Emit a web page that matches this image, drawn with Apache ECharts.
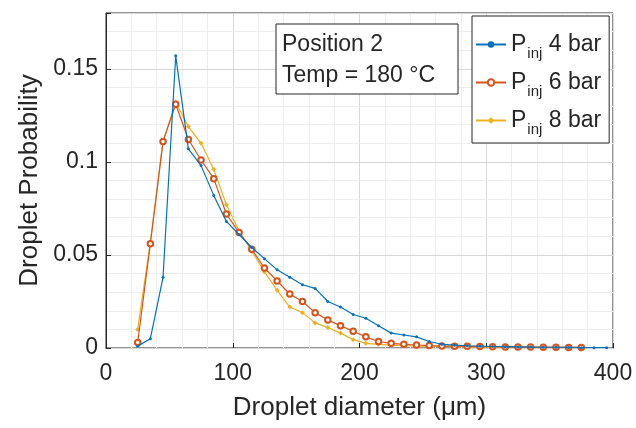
<!DOCTYPE html>
<html>
<head>
<meta charset="utf-8">
<script src="https://cdn.jsdelivr.net/npm/echarts@6/dist/echarts.min.js"></script>
<style>
  html, body { margin: 0; padding: 0; background: #fff; }
  #chart { width: 636px; height: 428px; }
</style>
</head>
<body>
<div id="chart"></div>
<script>
// droplet diameter bins (um)
const diam4 = [25, 35, 45, 55, 65, 75, 85, 95, 105, 115, 125, 135, 145, 155, 165, 175, 185, 195, 205, 215,
  225, 235, 245, 255, 265, 275, 285, 295, 305, 315, 325, 335, 345, 355, 365, 375, 385, 395];
const diam68 = [25, 35, 45, 55, 65, 75, 85, 95, 105, 115, 125, 135, 145, 155, 165, 175, 185, 195, 205, 215,
  225, 235, 245, 255, 265, 275, 285, 295, 305, 315, 325, 335, 345, 355, 365, 375];

// probabilities
const prob4bar = [0.001, 0.005, 0.038, 0.157, 0.107, 0.098, 0.082, 0.068, 0.061, 0.054,
  0.048, 0.042, 0.038, 0.034, 0.032, 0.025, 0.022, 0.018, 0.016, 0.012,
  0.008, 0.007, 0.006, 0.0035, 0.002, 0.0015, 0.0012, 0.001, 0.0008, 0.0007,
  0.0006, 0.0005, 0.0004, 0.0004, 0.0003, 0.0002, 0.0002, 0.0002];
const prob6bar = [0.003, 0.056, 0.111, 0.131, 0.112, 0.101, 0.091, 0.072, 0.062, 0.053,
  0.043, 0.036, 0.029, 0.025, 0.019, 0.015, 0.012, 0.009, 0.006, 0.0035,
  0.0025, 0.002, 0.0016, 0.0013, 0.0011, 0.001, 0.0009, 0.0008, 0.0007, 0.0006,
  0.0005, 0.0005, 0.0004, 0.0004, 0.0003, 0.0003];
const prob8bar = [0.010, 0.057, 0.111, 0.132, 0.119, 0.110, 0.096, 0.077, 0.063, 0.052,
  0.041, 0.031, 0.022, 0.019, 0.0135, 0.011, 0.008, 0.0045, 0.0025, 0.002,
  0.0015, 0.0012, 0.001, 0.0009, 0.0008, 0.0007, 0.0006, 0.0005, 0.0005, 0.0004,
  0.0004, 0.0003, 0.0003, 0.0003, 0.0002, 0.0002];

const seriesNames = ['4 bar', '6 bar', '8 bar'];
const xTicks = [0, 100, 200, 300, 400];
const yTicks = [0, 0.05, 0.1, 0.15];

const FONT = 'Liberation Sans';
const AX = '#262626';

function pairs(xs, ys) {
  return xs.map((x, i) => [x, ys[i]]);
}

const chart = echarts.init(document.getElementById('chart'));

chart.setOption({
  animation: false,
  textStyle: { fontFamily: FONT, color: AX },
  grid: {
    left: 106, right: 23, top: 13, bottom: 80,
    show: true, borderColor: AX, borderWidth: 1, backgroundColor: 'transparent'
  },
  legend: {
    orient: 'vertical',
    left: 472, top: 16,
    padding: [12, 8, 6, 3],
    itemGap: 5,
    itemWidth: 30,
    itemHeight: 8,
    backgroundColor: '#fff',
    borderColor: AX,
    borderWidth: 1,
    borderRadius: 0,
    data: seriesNames,
    formatter: name => '{p|P}{s|inj}{t| ' + name + '}',
    textStyle: {
      color: AX,
      rich: {
        p: { fontSize: 23, lineHeight: 26, fontFamily: FONT, color: AX },
        s: { fontSize: 15, lineHeight: 14, padding: [18, 0, 0, 1], fontFamily: FONT, color: AX },
        t: { fontSize: 23, lineHeight: 26, fontFamily: FONT, color: AX }
      }
    }
  },
  graphic: [
    {
      type: 'rect',
      shape: { x: 276, y: 24, width: 182, height: 70 },
      style: { fill: '#fff', stroke: AX, lineWidth: 1 },
      z: 10
    },
    {
      type: 'text',
      left: 282, top: 29,
      style: {
        text: 'Position 2\nTemp = 180 °C',
        font: '23px "Liberation Sans"',
        lineHeight: 31,
        fill: AX
      },
      z: 11
    }
  ],
  xAxis: {
    type: 'value',
    min: 0, max: 400, interval: 100,
    name: 'Droplet diameter (μm)',
    nameLocation: 'middle',
    nameGap: 47,
    nameTextStyle: { fontSize: 26, color: AX, fontFamily: FONT },
    axisLine: { show: true, lineStyle: { color: AX, width: 1 } },
    axisTick: { inside: true, length: 5, lineStyle: { color: AX } },
    axisLabel: {
      fontSize: 23, color: AX, margin: 14,
      formatter: v => (xTicks.indexOf(v) >= 0 ? String(v) : '')
    },
    splitLine: { show: true, lineStyle: { color: '#d8d8d8', width: 1 } },
    minorTick: { show: false, splitNumber: 5 },
    minorSplitLine: { show: true, lineStyle: { color: '#eeeeee', width: 1 } }
  },
  yAxis: [
    {
      type: 'value',
      min: 0, max: 0.18, interval: 0.05,
      z: 3,
      name: 'Droplet Probability',
      nameLocation: 'middle',
      nameGap: 56,
      nameTextStyle: { fontSize: 26, color: AX, fontFamily: FONT },
      axisLine: { show: true, lineStyle: { color: AX, width: 1 } },
      axisTick: { inside: true, length: 5, lineStyle: { color: AX } },
      axisLabel: {
        fontSize: 23, color: AX, margin: 8,
        formatter: v => {
          const hit = yTicks.find(t => Math.abs(t - v) < 1e-9);
          return hit === undefined ? '' : String(hit);
        }
      },
      splitLine: { show: true, lineStyle: { color: '#d8d8d8', width: 1 } }
    },
    {
      // minor grid only
      type: 'value',
      min: 0, max: 0.18, interval: 0.01,
      z: 1,
      position: 'right',
      axisLine: { show: false },
      axisTick: { show: false },
      axisLabel: { show: false },
      splitLine: { show: true, lineStyle: { color: '#eeeeee', width: 1 } }
    }
  ],
  series: [
    {
      name: seriesNames[0],
      type: 'line',
      yAxisIndex: 0,
      data: pairs(diam4, prob4bar),
      symbol: 'circle',
      symbolSize: 3,
      showAllSymbol: true,
      lineStyle: { color: '#0072BD', width: 1.2 },
      itemStyle: { color: '#0072BD' },
      z: 5
    },
    {
      name: seriesNames[1],
      type: 'line',
      yAxisIndex: 0,
      data: pairs(diam68, prob6bar),
      symbol: 'emptyCircle',
      symbolSize: 5.5,
      showAllSymbol: true,
      lineStyle: { color: '#D95319', width: 1.2 },
      itemStyle: { color: '#D95319', borderWidth: 0.9, borderColor: '#D95319' },
      z: 4
    },
    {
      name: seriesNames[2],
      type: 'line',
      yAxisIndex: 0,
      data: pairs(diam68, prob8bar),
      symbol: 'diamond',
      symbolSize: 5,
      showAllSymbol: true,
      lineStyle: { color: '#EDB120', width: 1.2 },
      itemStyle: { color: '#EDB120' },
      z: 3
    }
  ]
});
</script>
</body>
</html>
